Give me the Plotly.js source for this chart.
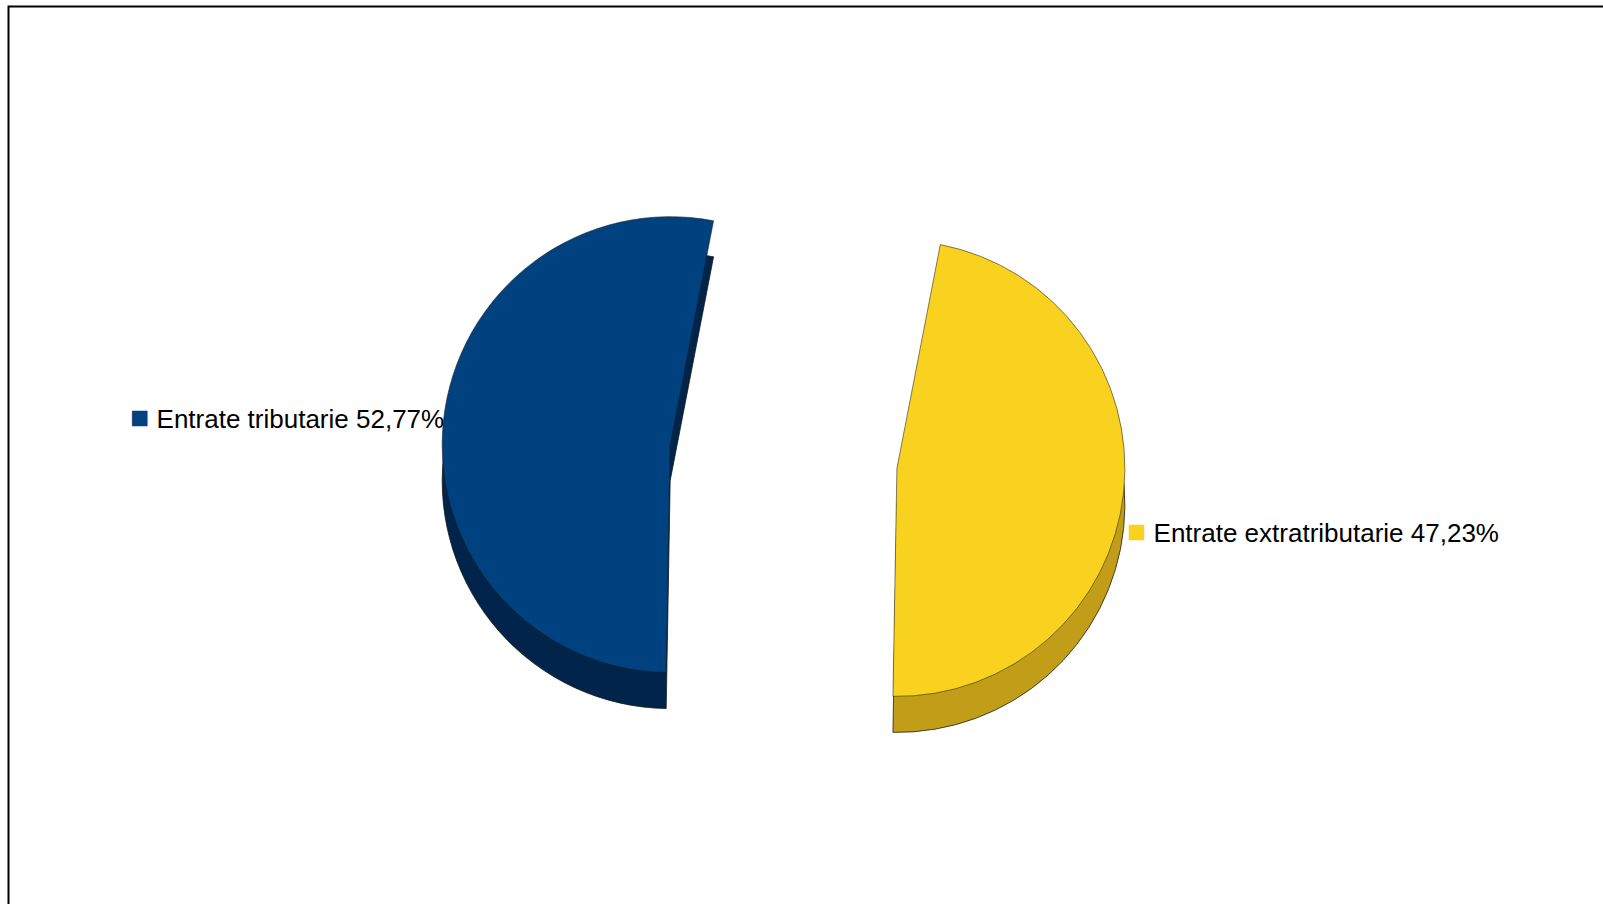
<!DOCTYPE html>
<html>
<head>
<meta charset="utf-8">
<script src="https://cdn.plot.ly/plotly-3.0.1.min.js"></script>
<style>
html, body { margin: 0; padding: 0; background: #ffffff; }
#chart { width: 1603px; height: 904px; }
</style>
</head>
<body>
<div id="chart"></div>
<script>
// ---- data ----
var categories = ["Entrate tributarie", "Entrate extratributarie"];
var shares = [52.77, 47.23];
var faceColors = ["#00417f", "#f9d11f"];
var sideColors = ["#00244a", "#c29d18"];

// ---- label texts built from data ----
function fmtPct(v) { return v.toFixed(2).replace('.', ',') + '%'; }
var labelTexts = categories.map(function (c, i) {
  return '<span style="color:' + faceColors[i] + ';font-size:32px">\u25A0</span> ' + c + ' ' + fmtPct(shares[i]);
});

var pieDomainX = [0.1888, 0.7888];
var pieDomainY = [0.1167, 0.8733];
var depth = 36 / 904;

var common = {
  type: 'pie',
  labels: categories,
  values: shares,
  sort: false,
  direction: 'counterclockwise',
  rotation: -179,
  pull: [0.5, 0.5],
  textinfo: 'none',
  hoverinfo: 'label+percent',
  showlegend: false
};

var sideTrace = Object.assign({}, common, {
  name: 'side',
  domain: { x: pieDomainX, y: [pieDomainY[0] - depth, pieDomainY[1] - depth] },
  marker: { colors: sideColors, line: { color: 'rgba(20,20,20,0.75)', width: 1 } },
  hoverinfo: 'skip'
});

var faceTrace = Object.assign({}, common, {
  name: 'face',
  domain: { x: pieDomainX, y: pieDomainY },
  marker: { colors: faceColors, line: { color: 'rgba(30,30,30,0.55)', width: 1 } }
});

var labelFont = { family: 'Liberation Sans, Arial, sans-serif', size: 26, color: '#000000' };

var layout = {
  width: 1603,
  height: 904,
  autosize: false,
  margin: { l: 0, r: 0, t: 0, b: 0, pad: 0 },
  paper_bgcolor: '#ffffff',
  plot_bgcolor: '#ffffff',
  showlegend: false,
  shapes: [{
    type: 'rect', xref: 'paper', yref: 'paper',
    x0: 8.5 / 1603, x1: 1.02, y0: -0.02, y1: 1 - 6.5 / 904,
    line: { color: '#000000', width: 2 }, fillcolor: 'rgba(0,0,0,0)'
  }],
  annotations: [
    {
      xref: 'paper', yref: 'paper', x: 446 / 1603, y: 1 - 417 / 904,
      xanchor: 'right', yanchor: 'middle', showarrow: false,
      text: labelTexts[0], font: labelFont
    },
    {
      xref: 'paper', yref: 'paper', x: 1125 / 1603, y: 1 - 531 / 904,
      xanchor: 'left', yanchor: 'middle', showarrow: false,
      text: labelTexts[1], font: labelFont
    }
  ]
};

Plotly.newPlot('chart', [sideTrace, faceTrace], layout, { displayModeBar: false, staticPlot: true });
</script>
</body>
</html>
